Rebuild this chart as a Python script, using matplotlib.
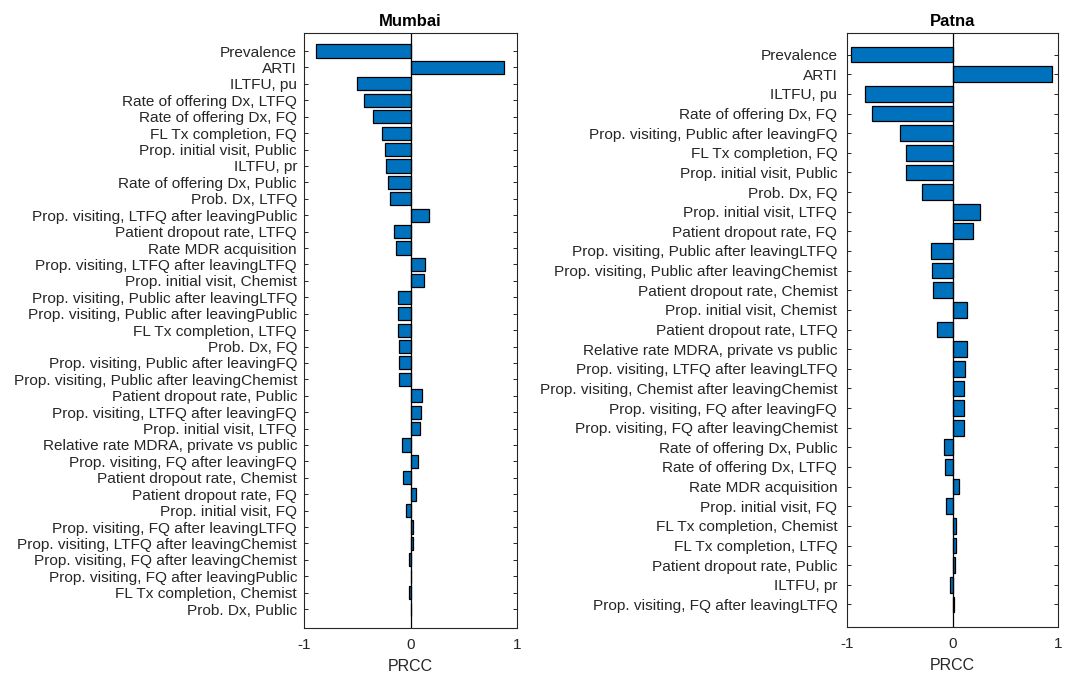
import numpy as np
import matplotlib.pyplot as plt

plt.rcParams['font.family'] = ['Liberation Sans', 'DejaVu Sans']

# Mumbai PRCC values
mumbai_labels = [
    'Prevalence', 'ARTI', 'ILTFU, pu', 'Rate of offering Dx, LTFQ',
    'Rate of offering Dx, FQ', 'FL Tx completion, FQ', 'Prop. initial visit, Public',
    'ILTFU, pr', 'Rate of offering Dx, Public', 'Prob. Dx, LTFQ',
    'Prop. visiting, LTFQ after leavingPublic', 'Patient dropout rate, LTFQ',
    'Rate MDR acquisition', 'Prop. visiting, LTFQ after leavingLTFQ',
    'Prop. initial visit, Chemist', 'Prop. visiting, Public after leavingLTFQ',
    'Prop. visiting, Public after leavingPublic', 'FL Tx completion, LTFQ',
    'Prob. Dx, FQ', 'Prop. visiting, Public after leavingFQ',
    'Prop. visiting, Public after leavingChemist', 'Patient dropout rate, Public',
    'Prop. visiting, LTFQ after leavingFQ', 'Prop. initial visit, LTFQ',
    'Relative rate MDRA, private vs public', 'Prop. visiting, FQ after leavingFQ',
    'Patient dropout rate, Chemist', 'Patient dropout rate, FQ',
    'Prop. initial visit, FQ', 'Prop. visiting, FQ after leavingLTFQ',
    'Prop. visiting, LTFQ after leavingChemist', 'Prop. visiting, FQ after leavingChemist',
    'Prop. visiting, FQ after leavingPublic', 'FL Tx completion, Chemist',
    'Prob. Dx, Public',
]
mumbai_prcc = [
    -0.89, 0.88, -0.50, -0.44, -0.35, -0.27, -0.24, -0.23, -0.21, -0.19,
    0.17, -0.155, -0.14, 0.135, 0.123, -0.12, -0.12, -0.12, -0.104, -0.104,
    -0.104, 0.11, 0.098, 0.085, -0.08, 0.072, -0.066, 0.047, -0.044, 0.025,
    0.025, -0.013, 0.008, -0.010, 0.002,
]

# Patna PRCC values
patna_labels = [
    'Prevalence', 'ARTI', 'ILTFU, pu', 'Rate of offering Dx, FQ',
    'Prop. visiting, Public after leavingFQ', 'FL Tx completion, FQ',
    'Prop. initial visit, Public', 'Prob. Dx, FQ', 'Prop. initial visit, LTFQ',
    'Patient dropout rate, FQ', 'Prop. visiting, Public after leavingLTFQ',
    'Prop. visiting, Public after leavingChemist', 'Patient dropout rate, Chemist',
    'Prop. initial visit, Chemist', 'Patient dropout rate, LTFQ',
    'Relative rate MDRA, private vs public', 'Prop. visiting, LTFQ after leavingLTFQ',
    'Prop. visiting, Chemist after leavingChemist', 'Prop. visiting, FQ after leavingFQ',
    'Prop. visiting, FQ after leavingChemist', 'Rate of offering Dx, Public',
    'Rate of offering Dx, LTFQ', 'Rate MDR acquisition', 'Prop. initial visit, FQ',
    'FL Tx completion, Chemist', 'FL Tx completion, LTFQ',
    'Patient dropout rate, Public', 'ILTFU, pr', 'Prop. visiting, FQ after leavingLTFQ',
]
patna_prcc = [
    -0.96, 0.94, -0.83, -0.76, -0.50, -0.44, -0.44, -0.29, 0.256, 0.193,
    -0.205, -0.196, -0.183, 0.142, -0.145, 0.133, 0.12, 0.111, 0.111, 0.11,
    -0.085, -0.072, 0.057, -0.06, 0.035, 0.035, 0.026, -0.025, 0.013,
]

dark = '#262626'
bar_color = '#0072BD'


def prcc_panel(ax, labels, values, title, label_pad):
    n = len(labels)
    pos = np.arange(1, n + 1)
    ax.barh(pos, values, height=0.8, color=bar_color, edgecolor='black', linewidth=0.9)
    ax.axvline(0, color='black', linewidth=0.9)
    ax.set_xlim(-1, 1)
    ax.set_ylim(n + 1.15, -0.1)
    ax.set_yticks(pos)
    ax.set_yticklabels(labels, fontsize=11.1, color=dark)
    ax.set_xticks([-1, 0, 1])
    ax.set_xticklabels(['-1', '0', '1'], fontsize=11, color=dark)
    ax.set_xlabel('PRCC', fontsize=11.5, color=dark, labelpad=5)
    ax.set_title(title, fontsize=12, fontweight='bold', color='black', pad=5)
    ax.tick_params(direction='in', length=3, width=0.7, color=dark,
                   left=True, right=True, top=True, bottom=True)
    ax.tick_params(axis='y', pad=label_pad)
    ax.tick_params(axis='x', pad=7)
    for s in ax.spines.values():
        s.set_color(dark)
        s.set_linewidth(0.8)


fig = plt.figure(figsize=(10.68, 6.75), dpi=100)
ax1 = fig.add_axes([304 / 1068, 47 / 675, 213 / 1068, 595 / 675])
ax2 = fig.add_axes([847 / 1068, 48 / 675, 211 / 1068, 594 / 675])

prcc_panel(ax1, mumbai_labels, mumbai_prcc, 'Mumbai', 5)
prcc_panel(ax2, patna_labels, patna_prcc, 'Patna', 7)

fig.savefig('out.png', dpi=100)
